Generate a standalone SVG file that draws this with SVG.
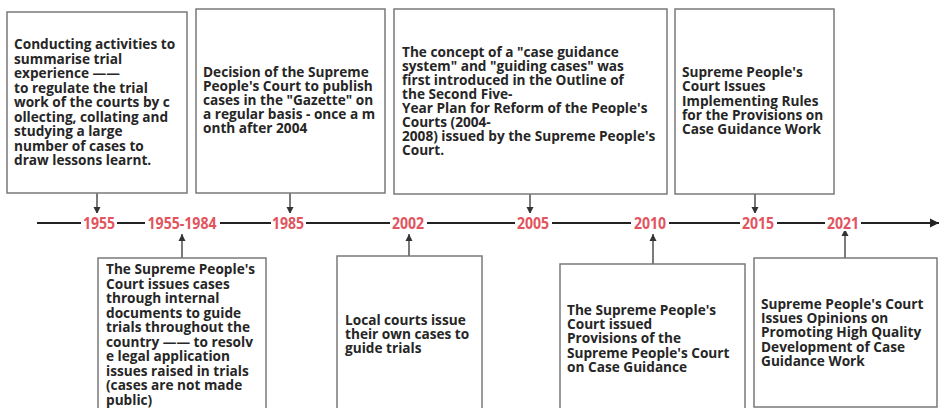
<svg xmlns="http://www.w3.org/2000/svg" width="939" height="408" viewBox="0 0 939 408">
<style>
.box{fill:#fff;stroke:#7a7a7a;stroke-width:1.5}
.t{font-family:"Open Sans","Noto Sans","Liberation Sans",sans-serif;font-weight:bold;font-size:15px;fill:#262626}
.yr{font-family:"Open Sans","Noto Sans","Liberation Sans",sans-serif;font-weight:bold;font-size:15.5px;fill:#e2545e;text-anchor:middle}
.con{stroke:#333;stroke-width:1.3;fill:none}
.axis{stroke:#222;stroke-width:2;fill:none}
.bg{fill:#fff}
</style>
<defs>
<marker id="ah" markerWidth="8" markerHeight="8" refX="7" refY="4" orient="auto" markerUnits="userSpaceOnUse">
<path d="M0,0.5 L7,4 L0,7.5 Z" fill="#333"/>
</marker>
<marker id="ahx" markerWidth="10" markerHeight="10" refX="9" refY="5" orient="auto" markerUnits="userSpaceOnUse">
<path d="M0,0.5 L9,5 L0,9.5 Z" fill="#222"/>
</marker>
</defs>

<g id="connectors">
<line class="axis" x1="37" y1="223" x2="939" y2="223" marker-end="url(#ahx)"/>
<line class="con" x1="97" y1="193" x2="97" y2="214" marker-end="url(#ah)"/>
<line class="con" x1="290" y1="193" x2="290" y2="214" marker-end="url(#ah)"/>
<line class="con" x1="530" y1="194" x2="530" y2="214" marker-end="url(#ah)"/>
<line class="con" x1="755" y1="194" x2="755" y2="214" marker-end="url(#ah)"/>
<line class="con" x1="182" y1="258" x2="182" y2="234" marker-end="url(#ah)"/>
<line class="con" x1="409" y1="256" x2="409" y2="234" marker-end="url(#ah)"/>
<line class="con" x1="653" y1="264" x2="653" y2="234" marker-end="url(#ah)"/>
<line class="con" x1="845" y1="258" x2="845" y2="229" marker-end="url(#ah)"/>
</g>

<g id="years">
<rect class="bg" x="81" y="213" width="36" height="18"/>
<text class="yr" transform="translate(99,229) scale(0.91,1)">1955</text>
<rect class="bg" x="145" y="213" width="75" height="18"/>
<text class="yr" transform="translate(182,229) scale(0.91,1)">1955-1984</text>
<rect class="bg" x="271" y="213" width="35" height="18"/>
<text class="yr" transform="translate(288,229) scale(0.91,1)">1985</text>
<rect class="bg" x="390" y="213" width="37" height="18"/>
<text class="yr" transform="translate(408,229) scale(0.91,1)">2002</text>
<rect class="bg" x="515" y="213" width="37" height="18"/>
<text class="yr" transform="translate(533,229) scale(0.91,1)">2005</text>
<rect class="bg" x="631" y="213" width="38" height="18"/>
<text class="yr" transform="translate(650,229) scale(0.91,1)">2010</text>
<rect class="bg" x="740" y="213" width="37" height="18"/>
<text class="yr" transform="translate(758,229) scale(0.91,1)">2015</text>
<rect class="bg" x="825" y="213" width="36" height="18"/>
<text class="yr" transform="translate(843,229) scale(0.91,1)">2021</text>
</g>

<g id="n1955">
<rect class="box" x="7" y="12" width="180" height="181"/>
<text class="t" transform="translate(14,49.3) scale(0.91,1)">
<tspan x="0" y="0">Conducting activities to</tspan>
<tspan x="0" y="14.5">summarise trial</tspan>
<tspan x="0" y="29">experience ——</tspan>
<tspan x="0" y="43.5">to regulate the trial</tspan>
<tspan x="0" y="58">work of the courts by c</tspan>
<tspan x="0" y="72.5">ollecting, collating and</tspan>
<tspan x="0" y="87">studying a large</tspan>
<tspan x="0" y="101.5">number of cases to</tspan>
<tspan x="0" y="116">draw lessons learnt.</tspan>
</text>
</g>

<g id="n1985">
<rect class="box" x="196" y="9" width="189" height="184"/>
<text class="t" transform="translate(203,76.7) scale(0.91,1)">
<tspan x="0" y="0">Decision of the Supreme</tspan>
<tspan x="0" y="14.1">People's Court to publish</tspan>
<tspan x="0" y="28.2">cases in the "Gazette" on</tspan>
<tspan x="0" y="42.3">a regular basis - once a m</tspan>
<tspan x="0" y="56.4">onth after 2004</tspan>
</text>
</g>

<g id="n2005">
<rect class="box" x="394" y="9" width="273" height="185"/>
<text class="t" transform="translate(402,56.7) scale(0.91,1)">
<tspan x="0" y="0">The concept of a "case guidance</tspan>
<tspan x="0" y="14">system" and "guiding cases" was</tspan>
<tspan x="0" y="28">first introduced in the Outline of</tspan>
<tspan x="0" y="42">the Second Five-</tspan>
<tspan x="0" y="56">Year Plan for Reform of the People's</tspan>
<tspan x="0" y="70">Courts (2004-</tspan>
<tspan x="0" y="84">2008) issued by the Supreme People's</tspan>
<tspan x="0" y="98">Court.</tspan>
</text>
</g>

<g id="n2015">
<rect class="box" x="675" y="9" width="159" height="185"/>
<text class="t" transform="translate(682,77) scale(0.91,1)">
<tspan x="0" y="0">Supreme People's</tspan>
<tspan x="0" y="14.3">Court Issues</tspan>
<tspan x="0" y="28.6">Implementing Rules</tspan>
<tspan x="0" y="42.9">for the Provisions on</tspan>
<tspan x="0" y="57.2">Case Guidance Work</tspan>
</text>
</g>

<g id="n1955-1984">
<rect class="box" x="98" y="258" width="168" height="160"/>
<text class="t" transform="translate(106,274) scale(0.91,1)">
<tspan x="0" y="0">The Supreme People's</tspan>
<tspan x="0" y="14.55">Court issues cases</tspan>
<tspan x="0" y="29.1">through internal</tspan>
<tspan x="0" y="43.65">documents to guide</tspan>
<tspan x="0" y="58.2">trials throughout the</tspan>
<tspan x="0" y="72.75">country —— to resolv</tspan>
<tspan x="0" y="87.3">e legal application</tspan>
<tspan x="0" y="101.85">issues raised in trials</tspan>
<tspan x="0" y="116.4">(cases are not made</tspan>
<tspan x="0" y="130.95">public)</tspan>
</text>
</g>

<g id="n2002">
<rect class="box" x="337" y="256" width="145" height="160"/>
<text class="t" transform="translate(345,325) scale(0.91,1)">
<tspan x="0" y="0">Local courts issue</tspan>
<tspan x="0" y="14">their own cases to</tspan>
<tspan x="0" y="28">guide trials</tspan>
</text>
</g>

<g id="n2010">
<rect class="box" x="560" y="264" width="185" height="160"/>
<text class="t" transform="translate(567,315) scale(0.91,1)">
<tspan x="0" y="0">The Supreme People's</tspan>
<tspan x="0" y="14.2">Court issued</tspan>
<tspan x="0" y="28.4">Provisions of the</tspan>
<tspan x="0" y="42.6">Supreme People's Court</tspan>
<tspan x="0" y="56.8">on Case Guidance</tspan>
</text>
</g>

<g id="n2021">
<rect class="box" x="754" y="258" width="183" height="149"/>
<text class="t" transform="translate(761,309) scale(0.91,1)">
<tspan x="0" y="0">Supreme People's Court</tspan>
<tspan x="0" y="14.2">Issues Opinions on</tspan>
<tspan x="0" y="28.4">Promoting High Quality</tspan>
<tspan x="0" y="42.6">Development of Case</tspan>
<tspan x="0" y="56.8">Guidance Work</tspan>
</text>
</g>
</svg>
